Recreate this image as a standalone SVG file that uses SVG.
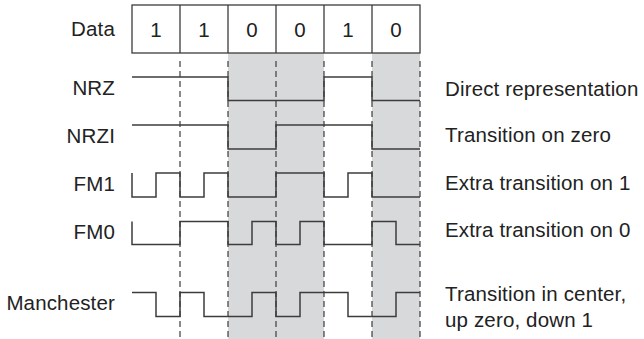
<svg xmlns="http://www.w3.org/2000/svg" width="644" height="339" viewBox="0 0 644 339">
  <style>
    .lbl { font-family: "Liberation Sans", Arial, sans-serif; font-size: 20.5px; fill: #222; letter-spacing: 0.15px; }
    .end { text-anchor: end; }
    .mid { text-anchor: middle; }
    .box { fill: none; stroke: #3c3c3c; stroke-width: 1.3; }
    .wave { fill: none; stroke: #3c3c3c; stroke-width: 1.5; stroke-linejoin: miter; }
    .grid { stroke: #3c3c3c; stroke-width: 1.2; stroke-dasharray: 6 4; }
    .shade { fill: #d8d9db; }
  </style>

  <!-- shaded columns for the zero bits -->
  <g id="shading">
    <rect class="shade" x="228" y="53" width="96" height="286"/>
    <rect class="shade" x="372" y="53" width="48" height="286"/>
  </g>

  <!-- bit-boundary guide lines -->
  <g id="connectors">
    <line class="grid" x1="180" y1="61" x2="180" y2="339"/>
    <line class="grid" x1="228" y1="61" x2="228" y2="339"/>
    <line class="grid" x1="276" y1="61" x2="276" y2="339"/>
    <line class="grid" x1="324" y1="61" x2="324" y2="339"/>
    <line class="grid" x1="372" y1="61" x2="372" y2="339"/>
    <line class="grid" x1="420" y1="61" x2="420" y2="339"/>
  </g>

  <!-- data bits -->
  <g id="data">
    <text class="lbl end" x="115" y="36">Data</text>
    <rect class="box" x="132" y="5" width="288" height="48"/>
    <path class="box" d="M180,5V53M228,5V53M276,5V53M324,5V53M372,5V53"/>
    <text class="lbl mid" x="156" y="37">1</text>
    <text class="lbl mid" x="204" y="37">1</text>
    <text class="lbl mid" x="252" y="37">0</text>
    <text class="lbl mid" x="300" y="37">0</text>
    <text class="lbl mid" x="348" y="37">1</text>
    <text class="lbl mid" x="396" y="37">0</text>
  </g>

  <g id="nrz">
    <text class="lbl end" x="115" y="94.5">NRZ</text>
    <path class="wave" d="M132,77H228V100.5H324V77H372V100.5H420"/>
    <text class="lbl" x="445" y="96">Direct representation</text>
  </g>

  <g id="nrzi">
    <text class="lbl end" x="115" y="142.5">NRZI</text>
    <path class="wave" d="M132,125H228V149H276V125H372V149H420"/>
    <text class="lbl" x="445" y="142">Transition on zero</text>
  </g>

  <g id="fm1">
    <text class="lbl end" x="115" y="191">FM1</text>
    <path class="wave" d="M132,173V197H156V173H180V197H204V173H228V197H276V173H324V197H348V173H372V197H420"/>
    <text class="lbl" x="445" y="190">Extra transition on 1</text>
  </g>

  <g id="fm0">
    <text class="lbl end" x="115" y="238.5">FM0</text>
    <path class="wave" d="M132,221.5V244.5H180V221.5H228V244.5H252V221.5H276V244.5H300V221.5H324V244.5H372V221.5H396V244.5H420"/>
    <text class="lbl" x="445" y="237">Extra transition on 0</text>
  </g>

  <g id="manchester">
    <text class="lbl end" x="115" y="310">Manchester</text>
    <path class="wave" d="M132,292.5H156V316.5H180V292.5H204V316.5H252V292.5H276V316.5H300V292.5H348V316.5H396V292.5H420"/>
    <text class="lbl" x="445" y="301">Transition in center,</text>
    <text class="lbl" x="445" y="327">up zero, down 1</text>
  </g>
</svg>
